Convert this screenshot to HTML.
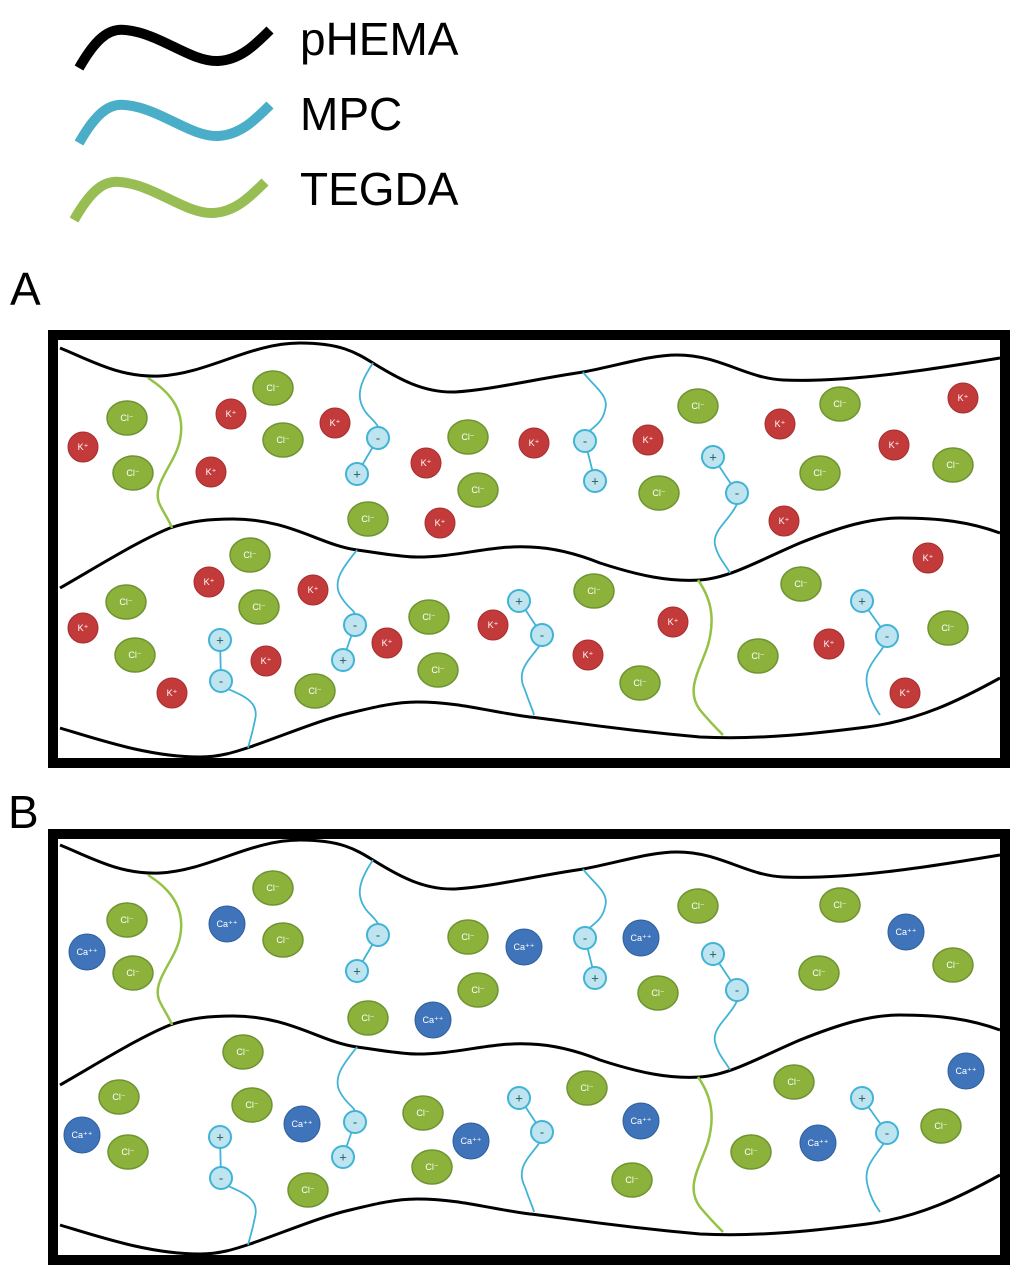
<!DOCTYPE html>
<html><head><meta charset="utf-8"><style>
html,body{margin:0;padding:0;background:#fff;}
svg{display:block;}
.cl ellipse{fill:#8cb23c;stroke:#6d9431;stroke-width:1.5;rx:20px;ry:17px;}
.k circle{fill:#c33a3a;stroke:#a52e2e;stroke-width:1;r:15px;}
.ca circle{fill:#3f74ba;stroke:#2f5e9c;stroke-width:1;r:18px;}
.ion text{fill:#fff;font-family:"Liberation Sans","DejaVu Sans",sans-serif;font-size:9px;text-anchor:middle;dominant-baseline:central;}
.bk{fill:none;stroke:#000;stroke-width:3;}
.bl{fill:none;stroke:#40b3d6;stroke-width:1.8;}
.gr{fill:none;stroke:#93c245;stroke-width:2.5;}
.sub circle{fill:#bde4ef;stroke:#40b3d6;stroke-width:2;r:11px;}
.sub text{fill:#2c5866;font-family:"Liberation Sans",sans-serif;font-size:13px;text-anchor:middle;dominant-baseline:central;}
.lbl{font-family:"Liberation Sans",sans-serif;font-size:46px;fill:#000;}
</style></head><body>
<svg width="1024" height="1276" viewBox="0 0 1024 1276" xmlns="http://www.w3.org/2000/svg">
<path d="M79,68 C95,40 108,28 125,30 C160,33 190,62 218,61 C240,60 255,45 270,30" fill="none" stroke="#000" stroke-width="10"/>
<path d="M79,143 C95,115 108,103 125,105 C160,108 190,137 218,136 C240,135 255,120 270,105" fill="none" stroke="#4aaec9" stroke-width="10"/>
<path d="M74,220 C90,192 103,180 120,182 C155,185 185,214 213,213 C235,212 250,197 265,182" fill="none" stroke="#98bd53" stroke-width="10"/>
<text class="lbl" x="300" y="55">pHEMA</text>
<text class="lbl" x="300" y="130">MPC</text>
<text class="lbl" x="300" y="205">TEGDA</text>
<text class="lbl" x="10" y="305">A</text>
<text class="lbl" x="8" y="828">B</text>

<rect x="53" y="335" width="952" height="428" fill="none" stroke="#000" stroke-width="10"/>
<rect x="53" y="834" width="952" height="426" fill="none" stroke="#000" stroke-width="10"/>

<g id="net">
<path class="bk" d="M60,348 C90,360 120,378 160,376 C210,373 250,343 300,343 C340,343 355,352 373,363 C400,380 425,393 455,392 C490,390 530,380 583,372 C620,365 650,355 677,355 C720,355 745,378 783,380 C850,383 940,368 1000,358"/>
<path class="bk" d="M60,588 C100,565 140,540 170,528 C190,521 210,519 233,519 C290,519 320,545 357,550 C380,553 400,557 417,557 C460,557 490,545 530,547 C560,548 585,557 600,563 C640,576 670,582 700,580 C730,578 760,560 800,543 C840,527 870,518 900,518 C940,518 970,522 1000,533"/>
<path class="bk" d="M60,728 C100,740 150,757 200,757 C220,757 235,752 250,747 C290,733 320,720 350,713 C375,707 395,702 417,702 C460,702 490,712 530,717 C560,720 600,728 700,737 C760,740 820,733 867,727 C920,720 960,700 1000,678"/>
<path class="gr" d="M148,378 C175,395 185,415 180,440 C175,465 150,485 160,505 C165,515 170,522 172,528"/>
<path class="gr" d="M698,580 C712,600 715,620 708,645 C700,670 685,690 700,710 C710,722 718,730 723,735"/>
<path class="bl" d="M373,363 C358,385 355,400 368,415 C378,425 380,428 378,432 M378,438 L357,474"/>
<path class="bl" d="M583,372 C592,385 610,395 605,410 C602,425 590,428 585,436 M585,441 L595,481"/>
<path class="bl" d="M713,457 L737,493 M737,504 C730,520 712,530 715,545 C718,558 726,565 730,573"/>
<path class="bl" d="M357,550 C345,565 332,580 340,595 C347,608 355,610 355,615 M355,625 L343,660"/>
<path class="bl" d="M220,640 L221,681 M226,688 C240,695 260,700 255,720 C252,735 250,740 248,748"/>
<path class="bl" d="M519,600 L542,635 M540,645 C530,660 515,670 525,690 C530,705 533,710 534,715"/>
<path class="bl" d="M862,601 L887,636 M884,646 C875,660 862,670 868,690 C872,705 878,712 880,715"/>
<g class="sub">
<g transform="translate(378,438)"><circle/><text>-</text></g>
<g transform="translate(357,474)"><circle/><text>+</text></g>
<g transform="translate(585,441)"><circle/><text>-</text></g>
<g transform="translate(595,481)"><circle/><text>+</text></g>
<g transform="translate(713,457)"><circle/><text>+</text></g>
<g transform="translate(737,493)"><circle/><text>-</text></g>
<g transform="translate(355,625)"><circle/><text>-</text></g>
<g transform="translate(343,660)"><circle/><text>+</text></g>
<g transform="translate(220,640)"><circle/><text>+</text></g>
<g transform="translate(221,681)"><circle/><text>-</text></g>
<g transform="translate(519,601)"><circle/><text>+</text></g>
<g transform="translate(542,635)"><circle/><text>-</text></g>
<g transform="translate(862,601)"><circle/><text>+</text></g>
<g transform="translate(887,636)"><circle/><text>-</text></g>
</g>
</g>
<g transform="translate(0,497)">
<path class="bk" d="M60,348 C90,360 120,378 160,376 C210,373 250,343 300,343 C340,343 355,352 373,363 C400,380 425,393 455,392 C490,390 530,380 583,372 C620,365 650,355 677,355 C720,355 745,378 783,380 C850,383 940,368 1000,358"/>
<path class="bk" d="M60,588 C100,565 140,540 170,528 C190,521 210,519 233,519 C290,519 320,545 357,550 C380,553 400,557 417,557 C460,557 490,545 530,547 C560,548 585,557 600,563 C640,576 670,582 700,580 C730,578 760,560 800,543 C840,527 870,518 900,518 C940,518 970,522 1000,533"/>
<path class="bk" d="M60,728 C100,740 150,757 200,757 C220,757 235,752 250,747 C290,733 320,720 350,713 C375,707 395,702 417,702 C460,702 490,712 530,717 C560,720 600,728 700,737 C760,740 820,733 867,727 C920,720 960,700 1000,678"/>
<path class="gr" d="M148,378 C175,395 185,415 180,440 C175,465 150,485 160,505 C165,515 170,522 172,528"/>
<path class="gr" d="M698,580 C712,600 715,620 708,645 C700,670 685,690 700,710 C710,722 718,730 723,735"/>
<path class="bl" d="M373,363 C358,385 355,400 368,415 C378,425 380,428 378,432 M378,438 L357,474"/>
<path class="bl" d="M583,372 C592,385 610,395 605,410 C602,425 590,428 585,436 M585,441 L595,481"/>
<path class="bl" d="M713,457 L737,493 M737,504 C730,520 712,530 715,545 C718,558 726,565 730,573"/>
<path class="bl" d="M357,550 C345,565 332,580 340,595 C347,608 355,610 355,615 M355,625 L343,660"/>
<path class="bl" d="M220,640 L221,681 M226,688 C240,695 260,700 255,720 C252,735 250,740 248,748"/>
<path class="bl" d="M519,600 L542,635 M540,645 C530,660 515,670 525,690 C530,705 533,710 534,715"/>
<path class="bl" d="M862,601 L887,636 M884,646 C875,660 862,670 868,690 C872,705 878,712 880,715"/>
<g class="sub">
<g transform="translate(378,438)"><circle/><text>-</text></g>
<g transform="translate(357,474)"><circle/><text>+</text></g>
<g transform="translate(585,441)"><circle/><text>-</text></g>
<g transform="translate(595,481)"><circle/><text>+</text></g>
<g transform="translate(713,457)"><circle/><text>+</text></g>
<g transform="translate(737,493)"><circle/><text>-</text></g>
<g transform="translate(355,625)"><circle/><text>-</text></g>
<g transform="translate(343,660)"><circle/><text>+</text></g>
<g transform="translate(220,640)"><circle/><text>+</text></g>
<g transform="translate(221,681)"><circle/><text>-</text></g>
<g transform="translate(519,601)"><circle/><text>+</text></g>
<g transform="translate(542,635)"><circle/><text>-</text></g>
<g transform="translate(862,601)"><circle/><text>+</text></g>
<g transform="translate(887,636)"><circle/><text>-</text></g>
</g>
</g>

<g class="ion cl">
<g transform="translate(127,418)"><ellipse/><text>Cl⁻</text></g>
<g transform="translate(133,473)"><ellipse/><text>Cl⁻</text></g>
<g transform="translate(273,388)"><ellipse/><text>Cl⁻</text></g>
<g transform="translate(283,440)"><ellipse/><text>Cl⁻</text></g>
<g transform="translate(468,437)"><ellipse/><text>Cl⁻</text></g>
<g transform="translate(478,490)"><ellipse/><text>Cl⁻</text></g>
<g transform="translate(368,519)"><ellipse/><text>Cl⁻</text></g>
<g transform="translate(698,406)"><ellipse/><text>Cl⁻</text></g>
<g transform="translate(659,493)"><ellipse/><text>Cl⁻</text></g>
<g transform="translate(840,404)"><ellipse/><text>Cl⁻</text></g>
<g transform="translate(820,473)"><ellipse/><text>Cl⁻</text></g>
<g transform="translate(953,465)"><ellipse/><text>Cl⁻</text></g>
<g transform="translate(250,555)"><ellipse/><text>Cl⁻</text></g>
<g transform="translate(259,607)"><ellipse/><text>Cl⁻</text></g>
<g transform="translate(126,602)"><ellipse/><text>Cl⁻</text></g>
<g transform="translate(135,655)"><ellipse/><text>Cl⁻</text></g>
<g transform="translate(315,691)"><ellipse/><text>Cl⁻</text></g>
<g transform="translate(429,617)"><ellipse/><text>Cl⁻</text></g>
<g transform="translate(438,670)"><ellipse/><text>Cl⁻</text></g>
<g transform="translate(594,591)"><ellipse/><text>Cl⁻</text></g>
<g transform="translate(640,683)"><ellipse/><text>Cl⁻</text></g>
<g transform="translate(801,584)"><ellipse/><text>Cl⁻</text></g>
<g transform="translate(758,656)"><ellipse/><text>Cl⁻</text></g>
<g transform="translate(948,628)"><ellipse/><text>Cl⁻</text></g>
</g>
<g class="ion k">
<g transform="translate(83,447)"><circle/><text>K⁺</text></g>
<g transform="translate(231,414)"><circle/><text>K⁺</text></g>
<g transform="translate(211,472)"><circle/><text>K⁺</text></g>
<g transform="translate(335,423)"><circle/><text>K⁺</text></g>
<g transform="translate(426,463)"><circle/><text>K⁺</text></g>
<g transform="translate(440,523)"><circle/><text>K⁺</text></g>
<g transform="translate(534,443)"><circle/><text>K⁺</text></g>
<g transform="translate(648,440)"><circle/><text>K⁺</text></g>
<g transform="translate(780,424)"><circle/><text>K⁺</text></g>
<g transform="translate(894,445)"><circle/><text>K⁺</text></g>
<g transform="translate(963,398)"><circle/><text>K⁺</text></g>
<g transform="translate(784,521)"><circle/><text>K⁺</text></g>
<g transform="translate(209,582)"><circle/><text>K⁺</text></g>
<g transform="translate(313,590)"><circle/><text>K⁺</text></g>
<g transform="translate(83,628)"><circle/><text>K⁺</text></g>
<g transform="translate(172,693)"><circle/><text>K⁺</text></g>
<g transform="translate(266,661)"><circle/><text>K⁺</text></g>
<g transform="translate(387,643)"><circle/><text>K⁺</text></g>
<g transform="translate(493,625)"><circle/><text>K⁺</text></g>
<g transform="translate(588,655)"><circle/><text>K⁺</text></g>
<g transform="translate(673,622)"><circle/><text>K⁺</text></g>
<g transform="translate(829,644)"><circle/><text>K⁺</text></g>
<g transform="translate(928,558)"><circle/><text>K⁺</text></g>
<g transform="translate(905,693)"><circle/><text>K⁺</text></g>
</g>

<g class="ion cl">
<g transform="translate(127,920)"><ellipse/><text>Cl⁻</text></g>
<g transform="translate(133,973)"><ellipse/><text>Cl⁻</text></g>
<g transform="translate(273,888)"><ellipse/><text>Cl⁻</text></g>
<g transform="translate(283,940)"><ellipse/><text>Cl⁻</text></g>
<g transform="translate(468,937)"><ellipse/><text>Cl⁻</text></g>
<g transform="translate(478,990)"><ellipse/><text>Cl⁻</text></g>
<g transform="translate(368,1018)"><ellipse/><text>Cl⁻</text></g>
<g transform="translate(698,906)"><ellipse/><text>Cl⁻</text></g>
<g transform="translate(658,993)"><ellipse/><text>Cl⁻</text></g>
<g transform="translate(840,905)"><ellipse/><text>Cl⁻</text></g>
<g transform="translate(819,973)"><ellipse/><text>Cl⁻</text></g>
<g transform="translate(953,965)"><ellipse/><text>Cl⁻</text></g>
<g transform="translate(243,1052)"><ellipse/><text>Cl⁻</text></g>
<g transform="translate(252,1105)"><ellipse/><text>Cl⁻</text></g>
<g transform="translate(119,1097)"><ellipse/><text>Cl⁻</text></g>
<g transform="translate(128,1152)"><ellipse/><text>Cl⁻</text></g>
<g transform="translate(308,1190)"><ellipse/><text>Cl⁻</text></g>
<g transform="translate(423,1113)"><ellipse/><text>Cl⁻</text></g>
<g transform="translate(432,1167)"><ellipse/><text>Cl⁻</text></g>
<g transform="translate(587,1088)"><ellipse/><text>Cl⁻</text></g>
<g transform="translate(632,1180)"><ellipse/><text>Cl⁻</text></g>
<g transform="translate(794,1082)"><ellipse/><text>Cl⁻</text></g>
<g transform="translate(751,1152)"><ellipse/><text>Cl⁻</text></g>
<g transform="translate(941,1126)"><ellipse/><text>Cl⁻</text></g>
</g>
<g class="ion ca">
<g transform="translate(87,952)"><circle/><text>Ca⁺⁺</text></g>
<g transform="translate(227,924)"><circle/><text>Ca⁺⁺</text></g>
<g transform="translate(524,947)"><circle/><text>Ca⁺⁺</text></g>
<g transform="translate(641,938)"><circle/><text>Ca⁺⁺</text></g>
<g transform="translate(433,1020)"><circle/><text>Ca⁺⁺</text></g>
<g transform="translate(906,932)"><circle/><text>Ca⁺⁺</text></g>
<g transform="translate(966,1071)"><circle/><text>Ca⁺⁺</text></g>
<g transform="translate(82,1135)"><circle/><text>Ca⁺⁺</text></g>
<g transform="translate(302,1124)"><circle/><text>Ca⁺⁺</text></g>
<g transform="translate(471,1141)"><circle/><text>Ca⁺⁺</text></g>
<g transform="translate(641,1121)"><circle/><text>Ca⁺⁺</text></g>
<g transform="translate(818,1143)"><circle/><text>Ca⁺⁺</text></g>
</g>
</svg>
</body></html>
